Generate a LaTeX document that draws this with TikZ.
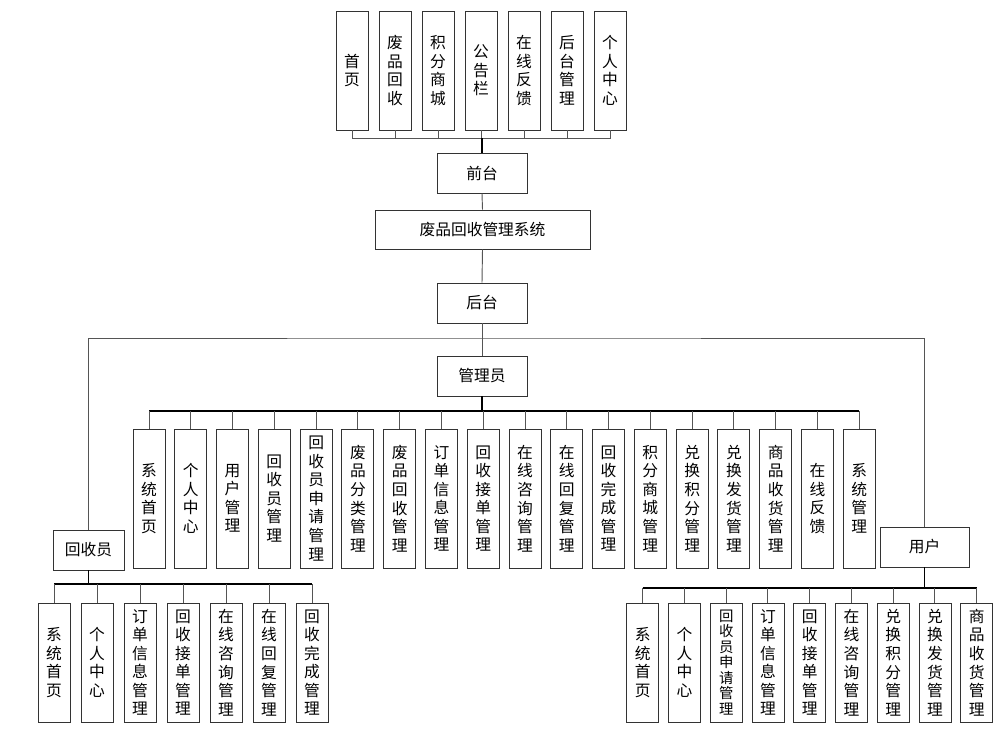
\documentclass[tikz,border=0pt]{standalone}
\usepackage{fontspec}
\newfontfamily\cjk{Noto Sans CJK SC}
\definecolor{boxc}{HTML}{333333}
\definecolor{linec}{HTML}{555555}
\begin{document}
\begin{tikzpicture}[x=0.75pt,y=-0.75pt,
 box/.style={draw=boxc, line width=0.65pt, fill=white, inner sep=0pt, align=center,
   font=\cjk\fontsize{11.8}{13.9}\selectfont},
 vbox/.style={box, minimum width=24pt, minimum height=89.25pt},
 smalltext/.style={font=\cjk\fontsize{10.8}{11.6}\selectfont},
 abox/.style={box, minimum width=24pt, minimum height=104.25pt},
 hbox/.style={box, minimum height=30pt},
 stub/.style={draw=linec, line width=0.7pt},
 bus/.style={draw=black, line width=1.4pt}]
\useasboundingbox (0,0) rectangle (1008,734);

% top row (front end)
\foreach \t [count=\i] in {{首\\页},{废\\品\\回\\收},{积\\分\\商\\城},{公\\告\\栏},{在\\线\\反\\馈},{后\\台\\管\\理},{个\\人\\中\\心}}
  \node[vbox] (t\i) at ({352+(\i-1)*43},70.5) {\t};
\node[hbox, minimum width=67.5pt] (qt) at (482,173) {前台};
\node[hbox, minimum width=161.25pt, minimum height=29.25pt] (sys) at (482.5,229.5) {废品回收管理系统};
\node[hbox, minimum width=67.5pt] (ht) at (482,303) {后台};
\node[hbox, minimum width=67.5pt] (gly) at (482,376) {管理员};
\node[hbox, minimum width=53.25pt] (hsy) at (88.5,550) {回收员};
\node[hbox, minimum width=66.75pt] (yh) at (924.5,547) {用户};

\coordinate (qbus) at (482,138);
\coordinate (split) at (482,338);
\coordinate (abus) at (482,411);
\coordinate (lbus) at (88.5,584);
\coordinate (rbus) at (924.5,588);

% admin row
\foreach \t [count=\i] in {{系\\统\\首\\页},{个\\人\\中\\心},{用\\户\\管\\理},{回\\收\\员\\管\\理},{回\\收\\员\\申\\请\\管\\理},{废\\品\\分\\类\\管\\理},{废\\品\\回\\收\\管\\理},{订\\单\\信\\息\\管\\理},{回\\收\\接\\单\\管\\理},{在\\线\\咨\\询\\管\\理},{在\\线\\回\\复\\管\\理},{回\\收\\完\\成\\管\\理},{积\\分\\商\\城\\管\\理},{兑\\换\\积\\分\\管\\理},{兑\\换\\发\\货\\管\\理},{商\\品\\收\\货\\管\\理},{在\\线\\反\\馈},{系\\统\\管\\理}}
  \node[abox] (a\i) at ({149+(\i-1)*41.78},498.5) {\t};

% recycler row
\foreach \t [count=\i] in {{系\\统\\首\\页},{个\\人\\中\\心},{订\\单\\信\\息\\管\\理},{回\\收\\接\\单\\管\\理},{在\\线\\咨\\询\\管\\理},{在\\线\\回\\复\\管\\理},{回\\收\\完\\成\\管\\理}}
  \node[vbox] (l\i) at ({54+(\i-1)*43},662.5) {\t};

% user row
\foreach \i/\t in {1/{系\\统\\首\\页},2/{个\\人\\中\\心},4/{订\\单\\信\\息\\管\\理},5/{回\\收\\接\\单\\管\\理},6/{在\\线\\咨\\询\\管\\理},7/{兑\\换\\积\\分\\管\\理},8/{兑\\换\\发\\货\\管\\理},9/{商\\品\\收\\货\\管\\理}}
  \node[vbox] (r\i) at ({642.7+(\i-1)*41.75},662.5) {\t};
\node[vbox, smalltext] (r3) at (726.2,662.5) {回\\收\\员\\申\\请\\管\\理};

% connectors
\foreach \i in {1,...,7} \draw[stub] (t\i.south) |- (qbus);
\draw[bus] (qbus) -- (qt.north);
\draw[stub] (qt.south) -- (sys.north);
\draw[stub] (sys.south) -- (ht.north);
\draw[stub] (ht.south) -- (gly.north);
\draw[stub] (hsy.north) |- (split) -| (yh.north);

\draw[bus] (gly.south) -- (abus);
\draw[bus] (abus -| a1.north) -- (abus -| a18.north);
\foreach \i in {1,...,18} \draw[stub] (abus -| a\i.north) -- (a\i.north);

\draw[bus] (hsy.south) -- (lbus);
\draw[bus] (lbus -| l1.north) -- (lbus -| l7.north);
\foreach \i in {1,...,7} \draw[stub] (lbus -| l\i.north) -- (l\i.north);

\draw[bus] (yh.south) -- (rbus);
\draw[bus] (rbus -| r1.north) -- (rbus -| r9.north);
\foreach \i in {1,...,9} \draw[stub] (rbus -| r\i.north) -- (r\i.north);
\end{tikzpicture}
\end{document}
